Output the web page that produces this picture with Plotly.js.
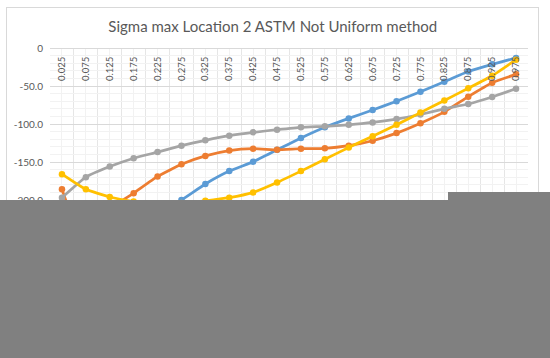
<!DOCTYPE html>
<html>
<head>
<meta charset="utf-8">
<script src="https://cdn.plot.ly/plotly-3.0.1.min.js"></script>
<style>
  html, body { margin: 0; padding: 0; background: #ffffff; }
  #wrap { position: relative; width: 550px; height: 358px; overflow: hidden; }
  #chart { position: absolute; left: 0; top: 0; width: 550px; height: 358px; }
  #frame { position: absolute; left: 6px; top: 7px; width: 533px; height: 400px; border: 1px solid #D9D9D9; box-sizing: border-box; pointer-events: none; }
  .mask { position: absolute; background: #808080; }
</style>
</head>
<body>
<div id="wrap">
  <div id="chart"></div>
  <div id="frame"></div>
  <div class="mask" style="left:0; top:200px; width:550px; height:158px;"></div>
  <div class="mask" style="left:448px; top:192px; width:102px; height:166px;"></div>
</div>
<script>
// Categories (position along the section)
const categories = ["0.025","0.075","0.125","0.175","0.225","0.275","0.325","0.375","0.425","0.475",
                    "0.525","0.575","0.625","0.675","0.725","0.775","0.825","0.875","0.925","0.975"];

// Series values (values below -200 are hidden in the reference, estimated)
const seriesBlue   = [-282, -268, -252, -235, -218, -200, -179, -162, -149.6, -134,
                      -118.5, -104.4, -92.6, -81.6, -70, -57.5, -44.3, -31, -21.5, -13];
const seriesOrange = [-186, -262, -212, -191, -169, -153, -142, -135, -132.5, -134,
                      -132.5, -132, -128.5, -122, -112, -99, -84, -64, -45.7, -34.7];
const seriesGray   = [-197, -170, -156, -145, -137, -128.5, -121.5, -115.4, -111, -107.5,
                      -104.4, -103, -101, -98, -93.5, -87.5, -80, -73.7, -64.5, -53.5];
const seriesYellow = [-166, -186, -196, -202, -205, -204, -201, -197, -190, -177,
                      -162, -146.5, -130.8, -116, -101, -85, -69, -53, -36.5, -15.4];

const seriesNames  = ["Series1", "Series2", "Series3", "Series4"];
const seriesColors = ["#5B9BD5", "#ED7D31", "#A5A5A5", "#FFC000"];

const yTickVals = [0, -50, -100, -150, -200, -250, -300, -350];
const yTickText = ["0", "-50.0", "-100.0", "-150.0", "-200.0", "-250.0", "-300.0", "-350.0"];

const xNum = categories.map(Number);
const allSeries = [seriesBlue, seriesOrange, seriesGray, seriesYellow];

const traces = allSeries.map((vals, i) => ({
  type: "scatter",
  mode: "lines+markers",
  name: seriesNames[i],
  x: xNum,
  y: vals,
  line: { color: seriesColors[i], width: 2.75, shape: "spline", smoothing: 0.4 },
  marker: { color: seriesColors[i], size: 6.5 },
  cliponaxis: true
}));

const fontFam = "Lato, 'Open Sans', 'DejaVu Sans', sans-serif";

const layout = {
  width: 550,
  height: 358,
  margin: { l: 50, r: 22, t: 48, b: 44 },
  paper_bgcolor: "#ffffff",
  plot_bgcolor: "#ffffff",
  showlegend: false,
  font: { family: fontFam, color: "#595959", size: 10 },
  title: {
    text: "Sigma max Location 2 ASTM Not Uniform method",
    font: { family: fontFam, size: 15, color: "#595959" },
    x: 0.496, xref: "container", xanchor: "center",
    y: 0.925, yref: "container", yanchor: "middle"
  },
  xaxis: {
    range: [0, 1],
    anchor: "free",
    position: 1,
    side: "bottom",
    tickmode: "array",
    tickvals: xNum,
    ticktext: categories,
    tickangle: -90,
    ticks: "",
    ticklabelstandoff: 4,
    tickfont: { family: fontFam, size: 9.5, color: "#595959" },
    showline: true,
    linecolor: "#D9D9D9",
    linewidth: 1,
    showgrid: true,
    gridcolor: "#F2F2F2",
    gridwidth: 1,
    minor: { tick0: 0, dtick: 0.05, showgrid: true, gridcolor: "#E6E6E6", gridwidth: 1, ticks: "" },
    zeroline: false,
    fixedrange: true
  },
  yaxis: {
    range: [-350, 0],
    tickmode: "array",
    tickvals: yTickVals,
    ticktext: yTickText,
    ticks: "",
    ticklabelstandoff: 6,
    tickfont: { family: fontFam, size: 10, color: "#595959" },
    showline: false,
    showgrid: true,
    gridcolor: "#D9D9D9",
    gridwidth: 1,
    minor: { tick0: 0, dtick: 10, showgrid: true, gridcolor: "#F2F2F2", gridwidth: 1, ticks: "" },
    zeroline: false,
    fixedrange: true
  }
};

Plotly.newPlot("chart", traces, layout, { displayModeBar: false, staticPlot: true });
</script>
</body>
</html>
